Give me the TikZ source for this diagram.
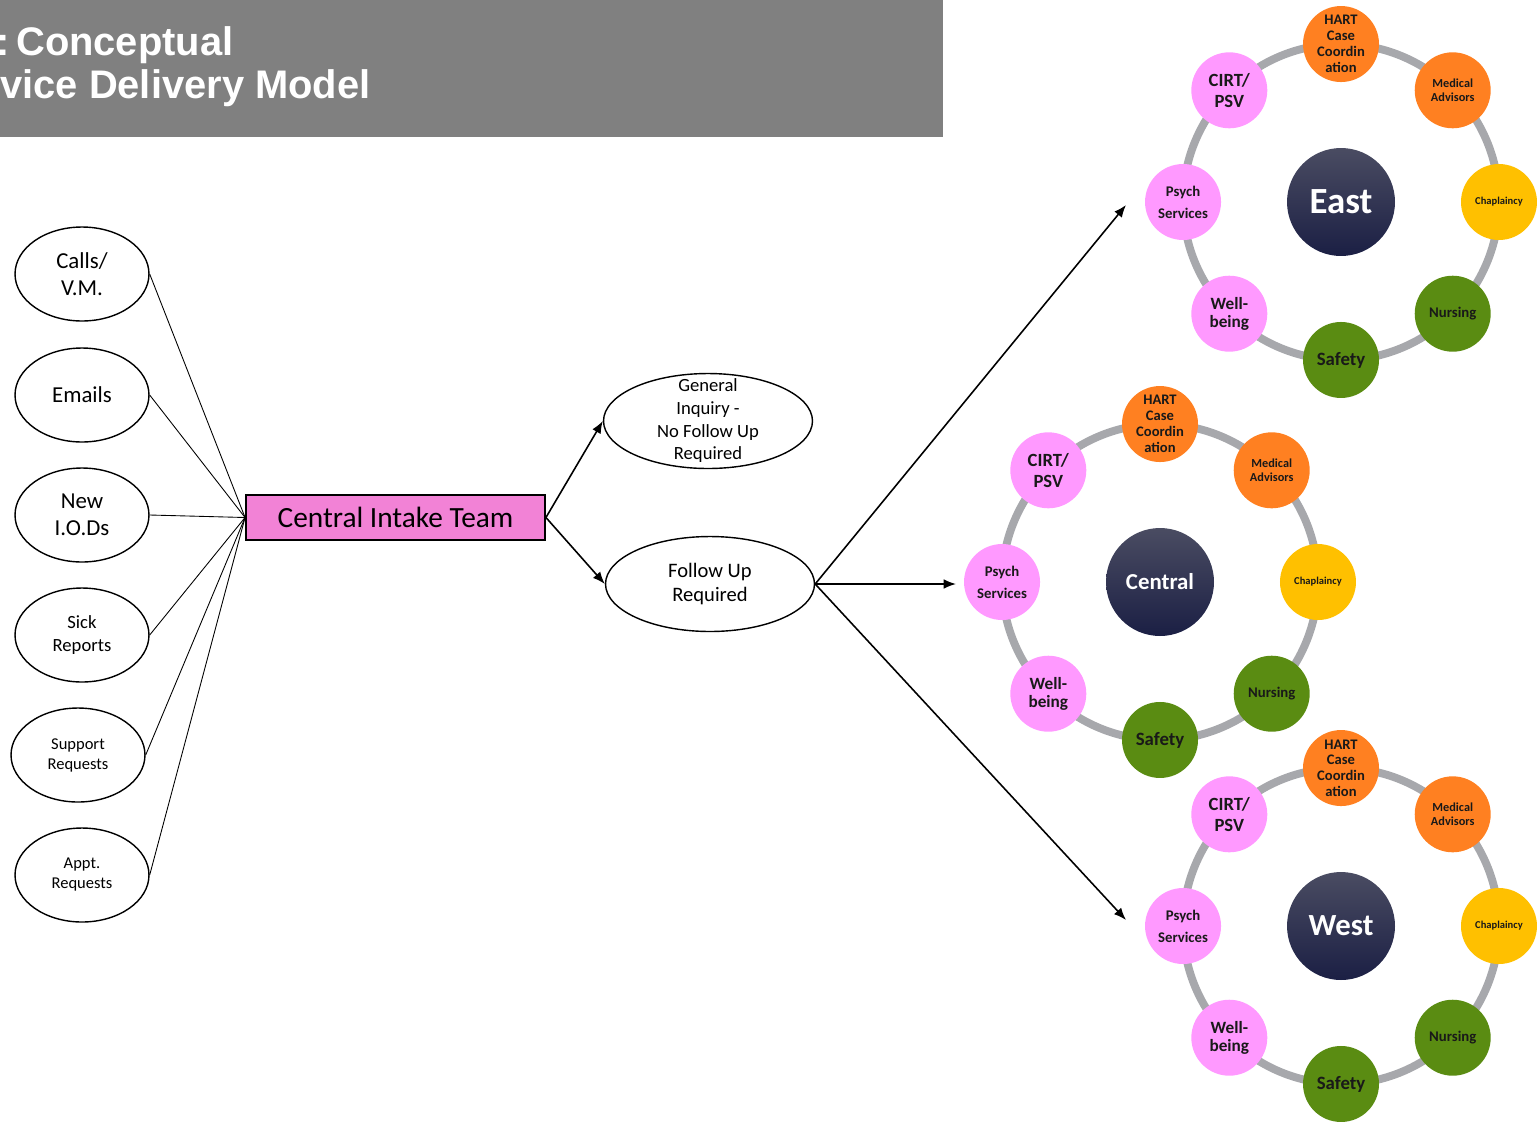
\documentclass[tikz,border=0pt]{standalone}
\usepackage{fontspec}
\setmainfont{Carlito}
\newfontfamily\titlefont{Liberation Sans}
\usetikzlibrary{arrows.meta, shapes.geometric}

\definecolor{titlegray}{HTML}{808080}
\definecolor{ringgray}{HTML}{A7A8AC}
\definecolor{satpink}{HTML}{FF99FF}
\definecolor{satorange}{HTML}{FF8021}
\definecolor{satyellow}{HTML}{FFC000}
\definecolor{satgreen}{HTML}{5A8C12}
\definecolor{navytop}{HTML}{4A4C62}
\definecolor{navybot}{HTML}{1B1F44}
\definecolor{intakepink}{HTML}{F282D6}

\tikzset{
  title/.style={text=white, inner sep=0pt, font=\titlefont\bfseries\fontsize{22.7}{25}\selectfont},
  source/.style={draw, ellipse, line width=0.8pt, minimum width=2.68cm, minimum height=1.88cm, align=center, inner sep=0pt},
  outcome/.style={draw, ellipse, line width=0.8pt, minimum width=4.18cm, minimum height=1.9cm, align=center, inner sep=0pt},
  intake/.style={draw, line width=1.1pt, fill=intakepink, minimum width=5.98cm, minimum height=0.9cm, font=\fontsize{16.7}{20}\selectfont},
  hub/.style={circle, minimum size=2.16cm, inner sep=0pt, top color=navytop, bottom color=navybot, text=white},
  sat/.style={circle, minimum size=1.52cm, inner sep=0pt, align=center, text=black!90},
  ring/.style={draw=ringgray, line width=4.5pt},
  feed/.style={line width=0.5pt},
  arr/.style={line width=0.9pt, -{Latex[length=7pt,width=5.5pt]}}
}

\begin{document}
\begin{tikzpicture}[x=0.02cm, y=-0.02cm]
  \useasboundingbox (0,0) rectangle (1537,1123);

  % Title banner (cut off on the left)
  \fill[titlegray] (0,0) rectangle (943,137);
  \node[title, anchor=base west] (title1) at (-4,55) {:\,Conceptual};
  \node[title, anchor=base west] (title2) at (0,98) {vice Delivery Model};

  % Incoming sources
  \node[source, font=\fontsize{13}{15.4}\selectfont] (calls) at (82,274) {Calls/\\V.M.};
  \node[source, font=\fontsize{13}{15.4}\selectfont] (emails) at (82,395) {Emails};
  \node[source, font=\fontsize{13}{15.4}\selectfont] (iods) at (82,515) {New\\I.O.Ds};
  \node[source, font=\fontsize{10.6}{13}\selectfont] (sick) at (82,635) {Sick\\Reports};
  \node[source, font=\fontsize{9.4}{11.4}\selectfont] (support) at (78,755) {Support\\Requests};
  \node[source, font=\fontsize{9.4}{11.4}\selectfont] (appt) at (82,875) {Appt.\\Requests};

  % Intake and outcomes
  \node[intake] (cit) at (395.5,517.5) {Central Intake Team};
  \node[outcome, inner ysep=-6pt, font=\fontsize{10.6}{12.9}\selectfont] (gi) at (708,421) {General\\Inquiry -\\No Follow Up\\Required};
  \node[outcome, font=\fontsize{11.7}{14}\selectfont] (fur) at (710,584) {Follow Up\\Required};

  \foreach \src in {calls, emails, iods, sick, support, appt}
    \draw[feed] (\src.east) -- (cit.west);
  \draw[arr] (cit.east) -- (gi.west);
  \draw[arr] (cit.east) -- (fur.west);

  % Regional wheels
  \foreach \name/\cx/\cy/\lbl/\hs in {east/1341/202/East/21, central/1160/582/Central/13, west/1341/926/West/17.5}{
    \draw[ring] (\cx,\cy) circle (3.16cm);
    \node[hub, font=\bfseries\fontsize{\hs}{\hs}\selectfont] (\name) at (\cx,\cy) {\lbl};
    \foreach \ang/\key/\txt/\col/\fs/\ls in {
        90/hart/{HART\\Case\\Coordin\\ation}/satorange/8.3/9,
        45/med/{Medical\\Advisors}/satorange/7/8,
        0/chap/Chaplaincy/satyellow/6/7,
        -45/nurs/Nursing/satgreen/8.4/10,
        -90/safe/Safety/satgreen/10.7/12,
        -135/well/{Well-\\being}/satpink/9.8/10.5,
        180/psych/{Psych\\Services}/satpink/8.4/12.5,
        135/cirt/{CIRT/\\PSV}/satpink/10.6/12}{
      \node[sat, fill=\col, font=\bfseries\fontsize{\fs}{\ls}\selectfont] (\name-\key) at ([shift={(\ang:3.16cm)}]\name) {\txt};
    }
  }

  % Follow up routed to the regions
  \coordinate (east-in) at (1126,205);
  \coordinate (central-in) at (956,584);
  \coordinate (west-in) at (1126,920);
  \draw[arr] (fur.east) -- (east-in);
  \draw[arr] (fur.east) -- (central-in);
  \draw[arr] (fur.east) -- (west-in);
\end{tikzpicture}
\end{document}
